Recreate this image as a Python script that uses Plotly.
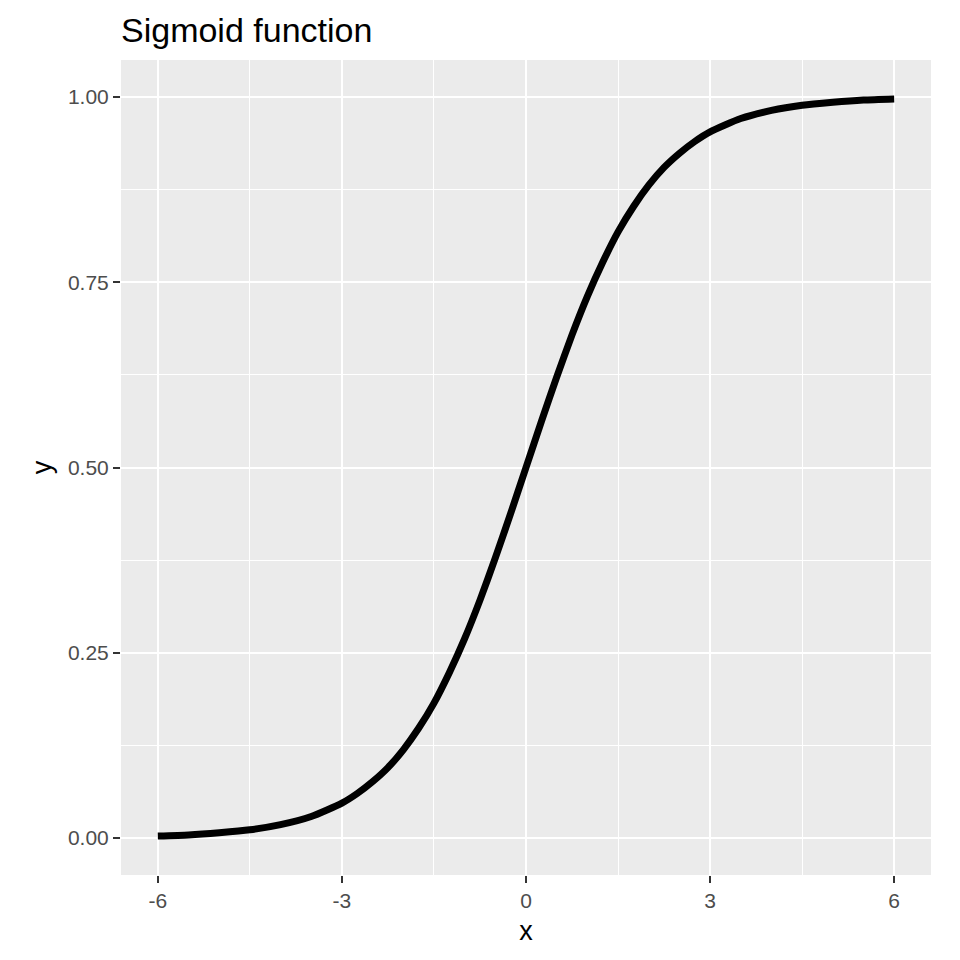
import plotly.graph_objects as go

x_vals = [-6, -5.5, -5, -4.5, -4, -3.5, -3, -2.75, -2.5, -2.25, -2, -1.75,
          -1.5, -1.25, -1, -0.75, -0.5, -0.25, 0, 0.25, 0.5, 0.75, 1, 1.25,
          1.5, 1.75, 2, 2.25, 2.5, 2.75, 3, 3.5, 4, 4.5, 5, 5.5, 6]
y_vals = [0.0025, 0.004, 0.007, 0.011, 0.018, 0.029, 0.047, 0.060, 0.076,
          0.095, 0.119, 0.148, 0.182, 0.223, 0.269, 0.321, 0.378, 0.438,
          0.5, 0.562, 0.622, 0.679, 0.731, 0.777, 0.818, 0.852, 0.881,
          0.905, 0.924, 0.940, 0.953, 0.971, 0.982, 0.989, 0.993, 0.996,
          0.9975]
x_ticks = [-6, -3, 0, 3, 6]
x_tick_text = ["-6", "-3", "0", "3", "6"]
x_minor = [-4.5, -1.5, 1.5, 4.5]
y_ticks = [0.0, 0.25, 0.5, 0.75, 1.0]
y_minor = [0.125, 0.375, 0.625, 0.875]
y_tick_text = ["0.00", "0.25", "0.50", "0.75", "1.00"]

fig = go.Figure()
fig.add_trace(go.Scatter(x=x_vals, y=y_vals, mode="lines",
                         line=dict(color="black", width=7, shape="spline",
                                   smoothing=0.6),
                         showlegend=False))

font = "Liberation Sans, Arial, sans-serif"
axis_common = dict(
    showgrid=True, gridcolor="white", gridwidth=2,
    zeroline=False, showline=False,
    ticks="outside", ticklen=7, tickwidth=2, tickcolor="#333333",
    tickfont=dict(family=font, size=21, color="#4D4D4D"),
)
fig.update_layout(
    width=960, height=960,
    paper_bgcolor="white", plot_bgcolor="#EBEBEB",
    margin=dict(l=113, r=37, t=52, b=93),
    title=dict(text="Sigmoid function", x=113/960, xanchor="left",
               y=1 - 22/960, yanchor="middle",
               font=dict(family=font, size=34, color="black")),
    xaxis=dict(range=[-6.6, 6.6], tickvals=x_ticks, ticktext=x_tick_text,
               minor=dict(tickvals=x_minor, showgrid=True,
                          gridcolor="white", gridwidth=1, ticks=""),
               title=dict(text="x", font=dict(family=font, size=27, color="black"),
                          standoff=9),
               **axis_common),
    yaxis=dict(range=[-0.05, 1.05], tickvals=y_ticks, ticktext=y_tick_text,
               minor=dict(tickvals=y_minor, showgrid=True,
                          gridcolor="white", gridwidth=1, ticks=""),
               title=dict(text="y", font=dict(family=font, size=27, color="black"),
                          standoff=8),
               **axis_common),
)
fig.write_html("out.html")
